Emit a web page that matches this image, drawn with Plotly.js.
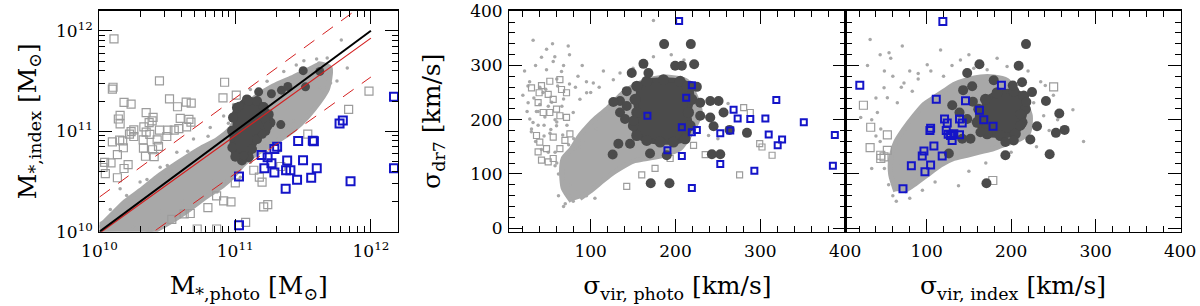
<!DOCTYPE html>
<html><head><meta charset="utf-8">
<script src="https://cdn.plot.ly/plotly-3.0.1.min.js"></script>
<style>html,body{margin:0;padding:0;background:#fff}#chart{width:1200px;height:306px}</style>
</head><body><div id="chart"></div>
<script>
// ---------------- Panel 1: stellar masses (values stored as log10 M / Msun) ----------------
const massCloudLogX = [9.99,10.03,10.18,10.30,10.42,10.57,10.72,10.87,10.96,11.04,11.14,11.28,11.43,11.55,11.63,11.70,11.68,11.58,11.48,11.38,11.28,11.16,11.06,10.99,10.91,10.79,10.67,10.55,10.42,10.35,9.99];
const massCloudLogY = [10.06,10.09,10.29,10.41,10.54,10.68,10.81,10.92,11.02,11.20,11.33,11.45,11.54,11.62,11.67,11.63,11.42,11.22,11.07,10.96,10.88,10.78,10.67,10.56,10.46,10.35,10.23,10.12,10.02,9.98,9.98];
const massDotLogX = [11.506,11.617,11.703,11.826,11.782,11.481,11.432,11.530,11.333,11.235,11.112,11.038,10.940,10.866,10.743,10.620,10.496,10.373,10.152,10.299,10.447,10.570,10.693,10.816,10.915,10.989,11.112,11.235,11.358,11.580,11.678,11.629,11.383,11.161,11.333,10.08,10.20,10.35,10.50,10.65,10.80,10.95,11.45,11.60,11.75,10.25,10.45,10.62,10.85,11.40];
const massDotLogY = [11.702,11.679,11.481,11.629,11.909,11.399,11.103,11.136,10.938,10.790,10.691,10.543,10.494,10.395,10.329,10.231,10.099,10.033,10.428,10.494,10.642,10.790,10.922,11.037,11.152,11.267,11.415,11.498,11.596,11.563,11.728,11.432,11.234,11.004,10.807,10.22,10.36,10.52,10.66,10.80,10.95,11.08,11.66,11.72,11.50,10.05,10.20,10.30,10.52,11.02];
const massSqLogX = [10.107,10.442,10.922,10.100,10.095,11.008,10.516,10.181,10.233,10.575,10.639,10.676,10.910,10.344,10.152,10.139,10.395,10.595,10.659,10.674,10.152,10.388,10.366,10.327,10.442,10.253,10.233,10.221,10.504,10.585,10.551,10.642,10.344,10.371,10.253,10.496,10.095,10.149,10.171,10.176,10.322,10.425,10.324,10.391,10.435,10.132,10.339,10.403,10.038,10.085,10.211,10.181,10.026,10.043,10.132,11.001,11.137,11.178,11.198,11.336,11.535,11.836,11.986,10.799,10.863,10.915,10.969,11.210,11.240,10.669,10.624,10.533,10.720,10.863,11.077];
const massSqLogY = [11.919,11.501,11.488,11.438,11.419,11.359,11.323,11.287,11.271,11.244,11.290,11.280,11.333,11.185,11.159,11.122,11.139,11.129,11.119,11.090,11.073,11.103,11.086,11.043,11.011,11.014,10.997,10.971,11.011,11.027,11.011,11.043,10.991,10.968,10.948,10.948,10.895,10.912,10.905,10.836,10.915,10.915,10.833,10.816,10.849,10.767,10.751,10.747,10.691,10.685,10.668,10.629,10.639,10.579,10.537,10.487,10.612,10.543,10.494,10.649,10.971,11.218,11.399,10.240,10.356,10.306,10.296,10.247,10.270,10.181,10.178,10.122,10.027,10.027,10.092];
const massCoreLogX = [10.984,11.013,11.087,11.161,11.210,11.247,11.260,11.223,11.161,11.124,11.100,11.050,11.001,10.979,10.977];
const massCoreLogY = [11.136,11.234,11.317,11.300,11.241,11.168,11.086,11.004,10.922,10.823,10.741,10.708,10.747,10.839,11.004];
const massDarkLogX = [11.173,11.267,11.341,11.388,11.501,11.518,11.624,11.336,11.223,11.063,11.100,11.030,11.240,11.200];
const massDarkLogY = [11.392,11.373,11.409,11.445,11.603,11.442,11.596,11.066,11.109,10.757,11.300,11.250,11.050,10.970];
const massBlueLogX = [12.170,12.170,11.793,11.769,11.850,11.572,11.464,11.580,11.309,11.289,11.195,11.239,11.267,11.215,11.289,11.383,11.500,11.601,11.375,11.407,11.560,11.456,11.372,11.028,11.028];
const massBlueLogY = [11.343,10.632,11.106,11.076,10.503,10.905,10.902,10.900,10.846,10.823,10.764,10.740,10.681,10.632,10.589,10.708,10.711,10.632,10.612,10.612,10.537,10.517,10.428,10.550,10.063];
const relLogX = [10, 12];
const oneToOneLogY = [10, 12];
const fitLogY = [9.985, 11.927];
const fitUpperLogY = [10.345, 12.315];
const fitLowerLogY = [9.616, 11.540];

// ---------------- Panel 2: sigma_dr7 vs sigma_vir,photo (km/s) ----------------
const photoCloudX = [77.5,67.6,65.6,67.6,77.5,87.3,97.2,107.0,118.8,126.7,138.5,150.3,166.1,189.7,213.4,225.2,229.1,221.3,205.5,185.8,166.1,150.3,134.6,122.8,111.0,99.1,87.3];
const photoCloudY = [49.7,73.9,104.2,128.5,146.7,170.9,189.1,204.2,219.4,231.5,249.7,261.8,272.7,278.8,270.9,237.6,213.3,183.0,146.7,134.5,128.5,123.6,110.3,98.2,83.0,67.9,54.6];
const photoDotX = [32.1,73.5,57.7,55.8,47.9,65.6,26.2,28.2,30.2,59.7,79.4,87.3,95.2,103.1,126.7,134.6,107.0,174.0,174.0,239.0,79.4,71.5,45,50,40,85,115,150,195,210,235,250,262,60,58,90,62,68,36,44,
  22,28,35,42,48,55,60,68,75,82,90,95,100,110,20,25,32,38,45,52,58,66,72,80,88,35,42,50,58,66,75,85,95,105,62,70,
  26,33,40,47,54,61,68,75,30,38,46,53,60,67,74,81];
const photoDotY = [346.6,335.7,316.3,307.2,292.1,289.1,231.5,201.2,183.0,189.1,213.3,237.6,249.7,267.9,273.9,286.0,183.0,383.0,316.3,170.9,49.7,61.8,170,225,260,280,290,295,320,310,205,165,230,120,140,160,100,40,215,250,
  290,270,300,315,330,340,275,300,320,260,300,270,250,260,245,215,195,215,190,175,200,225,190,165,150,160,145,140,115,90,80,70,60,55,60,45,
  262,240,228,256,232,262,238,266,178,190,205,182,196,172,154,146];
const photoSqX = [30.2,39.2,42.0,51.8,63.7,38.0,49.9,55.8,65.6,71.5,44.0,51.8,59.7,63.7,71.5,36.1,40.0,47.9,55.8,38.0,42.0,49.9,55.8,63.7,69.6,75.5,142.5,160.2,175.9,193.7,235.0,280.4,288.2,299.3,302.0,313.9,275.6,221.3];
const photoSqY = [258.8,249.7,263.0,270.9,273.9,231.5,246.7,237.6,255.7,249.7,213.3,213.3,219.4,207.3,204.2,170.9,158.8,146.7,167.9,140.6,125.5,122.4,128.5,146.7,161.8,173.9,77.0,98.2,110.3,128.5,135.8,222.4,213.3,155.8,149.7,134.5,98.2,152.7];
const photoCoreX = [154.3,166.1,185.8,205.5,217.3,219.3,215.4,217.3,211.4,197.6,181.9,166.1,154.3,150.3,154.3,152.3];
const photoCoreY = [261.8,270.9,273.9,270.9,261.8,237.6,213.3,189.1,164.8,158.8,158.8,161.8,170.9,189.1,213.3,237.6];
const photoDarkX = [186.6,218.1,162.2,199.6,207.5,222.0,148.4,168.1,142.5,134.6,142.5,126.7,134.6,140.5,150.3,132.6,146.4,125.9,170.0,189.7,170.8,192.9,241.0,250.8,229.1,256.7,241.0,244.9,229.1,284.3,242.9,252.8,263.8,225.2,213.4];
const photoDarkY = [339.4,339.4,303.0,299.4,299.4,302.4,286.0,286.0,252.7,234.5,225.4,232.7,213.3,201.2,198.2,155.8,155.8,135.8,137.6,134.5,83.0,83.0,234.5,234.5,231.5,213.3,204.2,187.9,207.3,175.8,136.4,136.4,181.2,260.6,261.8];
const photoBlueX = [204.3,219.3,212.6,166.9,207.5,219.3,225.2,268.5,273.3,288.2,306.0,318.9,309.9,320.5,325.7,252.8,264.6,252.8,190.5,207.5,293.0,219.3,351.3,387.9,385.6];
const photoBlueY = [381.8,263.6,240.6,207.3,186.1,177.0,181.2,218.2,202.4,201.2,202.4,236.3,172.7,152.7,163.6,175.2,180.0,118.2,143.6,133.3,106.1,73.9,195.1,172.0,115.1];

// ---------------- Panel 3: sigma_dr7 vs sigma_vir,index (km/s) ----------------
const indexCloudX = [63.4,57.5,57.5,63.4,73.2,85.0,96.8,108.6,120.4,132.2,148.0,163.7,179.4,195.2,203.1,214.9,222.7,220.8,210.9,195.2,179.4,163.7,148.0,132.2,116.5,100.7,85.0,73.2];
const indexCloudY = [67.9,98.2,128.5,158.8,183.0,207.3,228.5,240.6,252.7,264.8,273.9,278.8,278.8,272.7,258.8,237.6,207.3,177.0,164.8,155.8,146.7,140.6,134.5,128.5,116.4,98.2,80.0,67.9];
const indexDotX = [33.1,71.2,55.5,57.5,49.6,53.5,22.0,41.7,45.7,65.3,73.2,83.0,100.7,116.5,240.4,273.1,285.7,64.1,137.7,69.3,226.7,238.5,195.2,171.6,183.4,155.8,90,40,35,
  30,45,50,60,70,80,90,105,120,130,140,150,40,35,45,50,55,60,80,95,110,150,170,200,230,245,255,250,235,220];
const indexDotY = [347.9,335.7,323.6,313.3,258.8,240.6,204.2,213.3,183.0,231.5,267.9,252.7,301.2,328.5,263.0,218.2,160.0,49.7,78.2,116.4,231.5,207.3,298.2,292.1,313.3,295.1,285,170,110,
  300,320,290,280,260,290,275,290,280,300,310,320,240,200,160,110,80,60,55,70,85,105,120,140,150,180,200,245,270,290];
const indexSqX = [25.2,33.8,33.1,45.7,49.6,53.5,53.5,250.3,178.3,45.7];
const indexSqY = [226.7,186.1,148.5,134.5,131.5,143.6,172.1,260.6,87.9,128.5];
const indexCoreX = [169.6,183.4,203.1,214.9,216.8,212.9,205.0,187.3,171.6,159.8,161.7];
const indexCoreY = [237.6,249.7,252.7,243.6,219.4,195.1,173.9,170.9,173.9,195.1,219.4];
const indexDarkX = [217.6,162.5,208.9,148.0,179.4,201.9,212.9,224.7,218.0,241.2,257.0,263.3,253.0,230.6,222.7,203.1,193.2,193.2,245.6,170.8,126.3,143.2,153.9,154.7,130.3,138.9,142.1,151.9,163.7,210.9,210.9,148.0];
const indexDarkY = [339.4,302.4,299.4,286.0,272.7,263.0,269.1,250.9,232.7,234.5,211.5,181.2,175.8,187.9,163.6,161.8,158.8,134.5,136.4,83.0,137.6,254.5,261.8,233.3,226.7,213.3,164.8,164.8,177.0,210.3,189.1,201.2];
const indexBlueX = [119.2,20.9,111.4,146.0,162.5,121.2,124.4,138.9,142.1,167.6,178.6,104.7,103.9,123.2,125.5,128.3,132.2,138.9,130.2,108.6,96.8,94.8,118.4,81.9,104.7,98.0,72.0,188.5];
const indexBlueY = [381.2,263.6,237.6,235.1,217.6,201.2,193.9,201.2,193.9,200.0,187.9,184.2,180.0,180.0,173.3,170.9,173.9,172.1,161.8,151.5,142.4,133.3,133.3,115.2,116.4,104.2,72.7,263.6];

const massTicks = [1e10, 1e11, 1e12];
const massTickText = ['10<sup>10</sup>', '10<sup>11</sup>', '10<sup>12</sup>'];
const sigmaTicks = [0, 100, 200, 300, 400];
const sigmaTickText = ['0', '100', '200', '300', '400'];

// ---------------- styles ----------------
const LIGHT = '#a8a8a8', DARK = '#4b4b4b', SQGRAY = '#9c9c9c', BLUE = '#1414c8';
const p10 = a => a.map(v => Math.pow(10, v));

function cloud(x, y, xa, ya, color, msize) {
  return {type:'scatter', mode: msize ? 'lines+markers' : 'lines', x, y, xaxis:xa, yaxis:ya, fill:'toself', fillcolor:color,
          line:{color:color, width:5, shape:'spline', smoothing:0.6},
          marker:{color:color, size:msize||1}, hoverinfo:'skip', showlegend:false};
}
function dots(x, y, xa, ya, color, size, symbol, lw) {
  return {type:'scatter', mode:'markers', x, y, xaxis:xa, yaxis:ya, showlegend:false,
          marker:{color:color, size:size, symbol:symbol||'circle', line:{color:color, width:lw||0}}};
}
function line(x, y, color, width, dash) {
  return {type:'scatter', mode:'lines', x, y, xaxis:'x', yaxis:'y', showlegend:false,
          line:{color:color, width:width, dash:dash||'solid'}};
}

const traces = [
  cloud(p10(massCloudLogX), p10(massCloudLogY), 'x', 'y', LIGHT),
  dots(p10(massDotLogX), p10(massDotLogY), 'x', 'y', LIGHT, 3.5),
  dots(p10(massSqLogX), p10(massSqLogY), 'x', 'y', SQGRAY, 8, 'square-open', 1.2),
  cloud(p10(massCoreLogX), p10(massCoreLogY), 'x', 'y', DARK, 10),
  dots(p10(massDarkLogX), p10(massDarkLogY), 'x', 'y', DARK, 9),
  dots(p10(massBlueLogX), p10(massBlueLogY), 'x', 'y', BLUE, 8, 'square-open', 2),
  line(p10(relLogX), p10(fitUpperLogY), '#d42020', 1, '13px,10px'),
  line(p10(relLogX), p10(fitLowerLogY), '#d42020', 1, '13px,10px'),
  line(p10(relLogX), p10(fitLogY), '#d42020', 1.2),
  line(p10(relLogX), p10(oneToOneLogY), '#000000', 2),

  cloud(photoCloudX, photoCloudY, 'x2', 'y2', LIGHT),
  dots(photoDotX, photoDotY, 'x2', 'y2', LIGHT, 3.5),
  dots(photoSqX, photoSqY, 'x2', 'y2', SQGRAY, 6, 'square-open', 1.2),
  cloud(photoCoreX, photoCoreY, 'x2', 'y2', DARK, 11),
  dots(photoDarkX, photoDarkY, 'x2', 'y2', DARK, 10),
  dots(photoBlueX, photoBlueY, 'x2', 'y2', BLUE, 6, 'square-open', 2),

  cloud(indexCloudX, indexCloudY, 'x3', 'y3', LIGHT),
  dots(indexDotX, indexDotY, 'x3', 'y3', LIGHT, 3.5),
  dots(indexSqX, indexSqY, 'x3', 'y3', SQGRAY, 8, 'square-open', 1.2),
  cloud(indexCoreX, indexCoreY, 'x3', 'y3', DARK, 11),
  dots(indexDarkX, indexDarkY, 'x3', 'y3', DARK, 10),
  dots(indexBlueX, indexBlueY, 'x3', 'y3', BLUE, 7, 'square-open', 2),
];

const FONT = 'DejaVu Serif';
const tickFont = {family:FONT, size:17, color:'#000'};
const titleFont = {family:FONT, size:25, color:'#000'};
const minorLog = {ticks:'inside', ticklen:6, tickwidth:1, tickcolor:'#000', dtick:'D1', showgrid:false};
const minorLin = {ticks:'inside', ticklen:6, tickwidth:1, tickcolor:'#000', dtick:20, tick0:0, showgrid:false};
const DOMY = [0.2428, 0.9650];
function axis(extra) {
  return Object.assign({
    showline:true, linecolor:'#000', linewidth:1.3, mirror:'allticks',
    ticks:'inside', ticklen:13, tickwidth:1, tickcolor:'#000', ticklabeloverflow:'allow',
    showgrid:false, zeroline:false, tickfont:tickFont, automargin:false
  }, extra);
}

const layout = {
  width:1200, height:306, margin:{l:0, r:0, t:0, b:0},
  paper_bgcolor:'#fff', plot_bgcolor:'#fff', showlegend:false,
  xaxis: axis({domain:[0.0829,0.3317], anchor:'y', type:'log', range:[10,12.2], ticklabelstandoff:4,
    tickmode:'array', tickvals:massTicks, ticktext:massTickText, minor:minorLog,
    title:{text:'M<sub>*,photo</sub> [M<sub>⊙</sub>]', font:titleFont, standoff:16}}),
  yaxis: axis({domain:DOMY, anchor:'x', type:'log', range:[10,12.2], ticklabelstandoff:2,
    tickmode:'array', tickvals:massTicks, ticktext:massTickText, minor:minorLog,
    title:{text:'M<sub>*,index</sub> [M<sub>⊙</sub>]', font:titleFont, standoff:12}}),
  xaxis2: axis({domain:[0.4244,0.7046], anchor:'y2', range:[4,400.5], ticklabelstandoff:4,
    tickmode:'array', tickvals:sigmaTicks, ticktext:sigmaTickText, minor:minorLin,
    title:{text:'σ<sub>vir, photo</sub> [km/s]', font:titleFont, standoff:16}}),
  yaxis2: axis({domain:DOMY, anchor:'x2', range:[-6.5,401], ticklabelstandoff:2,
    tickmode:'array', tickvals:sigmaTicks, ticktext:sigmaTickText, minor:minorLin,
    title:{text:'σ<sub>dr7</sub> [km/s]', font:titleFont, standoff:22}}),
  xaxis3: axis({domain:[0.7046,0.9838], anchor:'y3', range:[4,400.5], ticklabelstandoff:4,
    tickmode:'array', tickvals:sigmaTicks, ticktext:sigmaTickText, minor:minorLin,
    title:{text:'σ<sub>vir, index</sub> [km/s]', font:titleFont, standoff:16}}),
  yaxis3: axis({domain:DOMY, anchor:'x3', range:[-6.5,401],
    tickmode:'array', tickvals:sigmaTicks, ticktext:sigmaTickText, showticklabels:false, minor:minorLin}),
};

Plotly.newPlot('chart', traces, layout, {staticPlot:true, displayModeBar:false});
</script></body></html>
